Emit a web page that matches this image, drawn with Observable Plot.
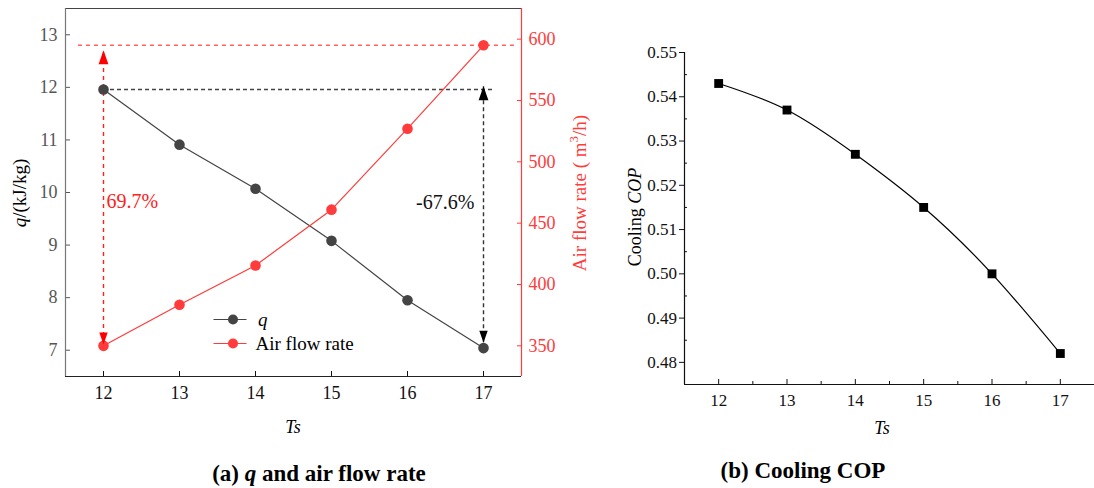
<!DOCTYPE html>
<html><head><meta charset="utf-8">
<script src="https://cdn.jsdelivr.net/npm/d3@7"></script>
<script src="https://cdn.jsdelivr.net/npm/@observablehq/plot@0.6"></script>
<style>
html,body{margin:0;padding:0;background:#fff;}
#root{position:relative;width:1094px;height:488px;overflow:hidden;font-family:"Liberation Serif","Times New Roman",serif;}
#root svg{position:absolute;top:0;background:transparent;max-width:none;font-family:"Liberation Serif","Times New Roman",serif !important;}
#root svg text{font-family:"Liberation Serif","Times New Roman",serif;}
.cap{position:absolute;font-weight:bold;font-size:23px;white-space:nowrap;transform:translate(-50%,-50%);color:#000;}
</style></head><body><div id="root"></div>
<script>
// ---- data ----
const ts = [12, 13, 14, 15, 16, 17];
const qValues = [11.96, 10.91, 10.07, 9.08, 7.95, 7.04];
const airFlow = [350, 383.5, 415.5, 461, 527, 595];
const cop = [0.543, 0.537, 0.527, 0.515, 0.500, 0.482];

const tsTicks = [12, 13, 14, 15, 16, 17];
const tsMinor = [12.5, 13.5, 14.5, 15.5, 16.5];
const qTicks = [7, 8, 9, 10, 11, 12, 13];
const airTicks = [350, 400, 450, 500, 550, 600];
const copTicks = [0.48, 0.49, 0.50, 0.51, 0.52, 0.53, 0.54, 0.55];
const copMinor = [0.485, 0.495, 0.505, 0.515, 0.525, 0.535, 0.545];

const tsDomain = [11.5, 17.5];
const qDomain = [6.5, 13.5];
const airDomain = [325, 625];
const copDomain = [0.475, 0.55];

// annotations
const airRefLine = [{x1: 11.67, x2: 17.46, y: 595}];
const qRefLine = [{x1: 12, x2: 17.15, y: 11.96}];
const airArrow = [{x: 12, y1: 351, y2: 591}];
const qArrow = [{x: 17, y1: 7.14, y2: 12.02}];
const airChangeLabel = [{x: 12.04, y: 9.83, text: "69.7%"}];
const qChangeLabel = [{x: 16.88, y: 9.80, text: "-67.6%"}];

const RED = "#ff3b3b";
const toQ = v => qDomain[0] + (v - airDomain[0]) / (airDomain[1] - airDomain[0]) * (qDomain[1] - qDomain[0]);
const fromQ = y => airDomain[0] + (y - qDomain[0]) / (qDomain[1] - qDomain[0]) * (airDomain[1] - airDomain[0]);

const rowsA = ts.map((t, i) => ({ts: t, q: qValues[i], air: airFlow[i]}));
const rowsB = ts.map((t, i) => ({ts: t, cop: cop[i]}));

const arrowUp = {draw(ctx, size) { const r = Math.sqrt(size / Math.PI); const h = 2 * r, w = 1.4 * r; ctx.moveTo(0, 0); ctx.lineTo(-w / 2, h); ctx.lineTo(w / 2, h); ctx.closePath(); }};
const arrowDown = {draw(ctx, size) { const r = Math.sqrt(size / Math.PI); const h = 2 * r, w = 1.4 * r; ctx.moveTo(0, 0); ctx.lineTo(-w / 2, -h); ctx.lineTo(w / 2, -h); ctx.closePath(); }};

const font = '"Liberation Serif","Times New Roman",serif';

// ---- chart (a) ----
const chartA = Plot.plot({
  width: 600, height: 488,
  marginLeft: 65, marginRight: 79, marginTop: 8, marginBottom: 112,
  style: {fontSize: "18px", background: "transparent", overflow: "visible"},
  x: {domain: tsDomain},
  y: {domain: qDomain},
  marks: [
    Plot.axisX(tsTicks, {tickSize: -5, tickPadding: 15, label: null, color: "#111", tickFormat: d => String(d)}),
    Plot.axisY(qTicks, {tickSize: -5, tickPadding: 13, label: null, color: "#555", tickFormat: d => String(d)}),
    Plot.axisY(airTicks.map(toQ), {anchor: "right", tickSize: -5, tickPadding: 12, label: null, color: RED, tickFormat: d => String(Math.round(fromQ(d)))}),
    Plot.ruleY([qDomain[1]], {stroke: "#444", strokeWidth: 1.2}),
    Plot.ruleY([qDomain[0]], {stroke: "#222", strokeWidth: 1.2}),
    Plot.ruleX([tsDomain[0]], {stroke: "#777", strokeWidth: 1.2}),
    Plot.ruleX([tsDomain[1]], {stroke: RED, strokeWidth: 1.2}),
    // reference dashed lines
    Plot.ruleY(airRefLine, {y: d => toQ(d.y), x1: "x1", x2: "x2", stroke: "#ff6060", strokeDasharray: "4,4", strokeWidth: 1.4}),
    Plot.ruleY(qRefLine, {y: "y", x1: "x1", x2: "x2", stroke: "#444", strokeDasharray: "4,3", strokeWidth: 1.4}),
    Plot.ruleX(airArrow, {x: "x", y1: d => toQ(d.y1), y2: d => toQ(d.y2), stroke: "#ff2020", strokeDasharray: "4,4", strokeWidth: 1.4}),
    Plot.ruleX(qArrow, {x: "x", y1: "y1", y2: "y2", stroke: "#333", strokeDasharray: "4,3", strokeWidth: 1.4}),
    // series
    Plot.line(rowsA, {x: "ts", y: "q", stroke: "#444", strokeWidth: 1.2}),
    Plot.line(rowsA, {x: "ts", y: d => toQ(d.air), stroke: RED, strokeWidth: 1.2}),
    Plot.dot(rowsA, {x: "ts", y: "q", r: 5.3, fill: "#444", stroke: "none"}),
    Plot.dot(rowsA, {x: "ts", y: d => toQ(d.air), r: 5.3, fill: RED, stroke: "none"}),
    // arrowheads
    Plot.dot(airArrow, {x: "x", y: d => toQ(d.y2), symbol: arrowUp, r: 7, fill: "#ff0000", stroke: "none"}),
    Plot.dot(airArrow, {x: "x", y: d => toQ(d.y1), symbol: arrowDown, r: 6, fill: "#ff0000", stroke: "none"}),
    Plot.dot(qArrow, {x: "x", y: "y2", symbol: arrowUp, r: 7, fill: "#000", stroke: "none"}),
    Plot.dot(qArrow, {x: "x", y: "y1", symbol: arrowDown, r: 6, fill: "#000", stroke: "none"}),
    // change labels
    Plot.text(airChangeLabel, {x: "x", y: "y", text: "text", textAnchor: "start", fill: "#ff2020", fontSize: 20}),
    Plot.text(qChangeLabel, {x: "x", y: "y", text: "text", textAnchor: "end", fill: "#111", fontSize: 20})
  ]
});
chartA.style.left = "0px";
chartA.style.fontFamily = font;

// ---- chart (b) ----
const chartB = Plot.plot({
  width: 504, height: 488,
  marginLeft: 94, marginRight: 0, marginTop: 52, marginBottom: 104,
  style: {fontSize: "17px", background: "transparent", overflow: "visible"},
  x: {domain: tsDomain},
  y: {domain: copDomain},
  marks: [
    Plot.axisY(copTicks, {tickSize: 5, tickPadding: 2.5, label: null, color: "#111", tickFormat: d3.format(".2f")}),
    Plot.axisY(copMinor, {tickSize: -3, label: null, color: "#111", tickFormat: () => ""}),
    Plot.axisX(tsTicks, {tickSize: -5, tickPadding: 14.5, label: null, color: "#111", tickFormat: d => String(d)}),
    Plot.axisX(tsMinor, {tickSize: -3, label: null, color: "#111", tickFormat: () => ""}),
    Plot.ruleX([tsDomain[0]], {stroke: "#111", strokeWidth: 1.2}),
    Plot.ruleY([copDomain[0]], {stroke: "#111", strokeWidth: 1.2}),
    Plot.line(rowsB, {x: "ts", y: "cop", curve: "natural", stroke: "#000", strokeWidth: 1.2}),
    Plot.dot(rowsB, {x: "ts", y: "cop", symbol: "square", r: 5, fill: "#000", stroke: "none"})
  ]
});
chartB.style.left = "590px";
chartB.style.fontFamily = font;

const root = document.getElementById("root");
root.appendChild(chartA);
root.appendChild(chartB);

// ---- titles & legend ----
const sa = d3.select(chartA);
const qt = sa.append("text").attr("transform", "translate(26,193) rotate(-90)").attr("text-anchor", "middle")
  .attr("font-size", 19).attr("fill", "#000");
qt.append("tspan").attr("font-style", "italic").text("q");
qt.append("tspan").text("/(kJ/kg)");

const at = sa.append("text").attr("transform", "translate(586,193) rotate(-90)").attr("text-anchor", "middle")
  .attr("font-size", 19).attr("fill", RED);
at.append("tspan").text("Air flow rate ( m");
at.append("tspan").attr("font-size", 13).attr("dy", -8).text("3");
at.append("tspan").attr("dy", 8).text("/h)");

sa.append("text").attr("x", 293).attr("y", 433).attr("text-anchor", "middle").attr("font-size", 18)
  .attr("font-style", "italic").attr("fill", "#000").text("Ts");

// legend
const legend = [
  {label: "q", italic: true, color: "#444", y: 319.5, tx: 258},
  {label: "Air flow rate", italic: false, color: RED, y: 343.5, tx: 255.5}
];
legend.forEach(l => {
  sa.append("line").attr("x1", 213.5).attr("x2", 246.5).attr("y1", l.y).attr("y2", l.y).attr("stroke", l.color).attr("stroke-width", 1.2);
  sa.append("circle").attr("cx", 233).attr("cy", l.y).attr("r", 5).attr("fill", l.color);
  sa.append("text").attr("x", l.tx).attr("y", l.y + 6).attr("font-size", 19).attr("fill", "#000")
    .attr("text-anchor", "start")
    .attr("font-style", l.italic ? "italic" : "normal").text(l.label);
});

const sb = d3.select(chartB);
const ct = sb.append("text").attr("transform", "translate(51,217) rotate(-90)").attr("text-anchor", "middle")
  .attr("font-size", 18).attr("fill", "#000");
ct.append("tspan").text("Cooling ");
ct.append("tspan").attr("font-style", "italic").text("COP");
sb.append("text").attr("x", 292).attr("y", 434).attr("text-anchor", "middle").attr("font-size", 18)
  .attr("font-style", "italic").attr("fill", "#000").text("Ts");

// captions
const capA = document.createElement("div");
capA.className = "cap"; capA.style.left = "319px"; capA.style.top = "474px";
capA.innerHTML = "(a) <i>q</i> and air flow rate";
root.appendChild(capA);
const capB = document.createElement("div");
capB.className = "cap"; capB.style.left = "803px"; capB.style.top = "471px";
capB.textContent = "(b) Cooling COP";
root.appendChild(capB);
</script></body></html>
